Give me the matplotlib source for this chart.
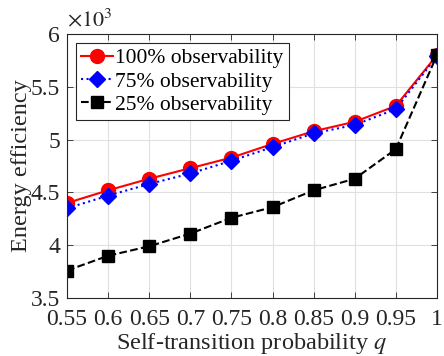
import matplotlib
matplotlib.use("Agg")
import matplotlib.pyplot as plt
from matplotlib.ticker import FuncFormatter

plt.rcParams['font.family'] = ['Liberation Serif', 'DejaVu Serif']
plt.rcParams['mathtext.fontset'] = 'stix'

q = [0.55, 0.6, 0.65, 0.7, 0.75, 0.8, 0.85, 0.9, 0.95, 1.0]
obs100 = [4400, 4520, 4630, 4730, 4830, 4960, 5080, 5170, 5320, 5800]
obs75 = [4350, 4470, 4580, 4680, 4800, 4930, 5060, 5140, 5290, 5790]
obs25 = [3760, 3900, 3990, 4110, 4260, 4360, 4520, 4630, 4910, 5800]
xticks = [0.55, 0.6, 0.65, 0.7, 0.75, 0.8, 0.85, 0.9, 0.95, 1]
xticklabels = ['0.55', '0.6', '0.65', '0.7', '0.75', '0.8', '0.85', '0.9', '0.95', '1']

fig = plt.figure(figsize=(4.44, 3.56), dpi=100)
ax = fig.add_axes([0.151, 0.163, 0.833, 0.741])

ax.plot(q, obs100, '-o', color='red', lw=1.5, ms=10, label='100% observability')
ax.plot(q, obs75, ':D', color='blue', lw=1.5, ms=8.5, label='75% observability')
ax.plot(q, obs25, '--s', color='black', lw=1.5, ms=8.5, label='25% observability')

ax.set_xlim(0.55, 1.0)
ax.set_ylim(3500, 6000)
ax.set_xticks(xticks)
ax.set_xticklabels(xticklabels)
ax.set_yticks([3500, 4000, 4500, 5000, 5500, 6000])
ax.yaxis.set_major_formatter(FuncFormatter(lambda v, p: '%g' % (v / 1000)))
ax.text(0.0, 1.01, r'$\times10^3$', transform=ax.transAxes, fontsize=16,
        color='#262626', ha='left', va='bottom')

ax.grid(True, color='#e0e0e0', lw=0.8)
ax.set_axisbelow(True)
ax.tick_params(direction='in', top=True, right=True, labelsize=17, colors='#262626',
               length=4, width=0.6)
ax.tick_params(axis='x', pad=8)
ax.tick_params(axis='y', pad=5)
for s in ax.spines.values():
    s.set_color('#262626')
    s.set_linewidth(0.8)

ax.set_xlabel('Self-transition probability $q$', fontsize=17.5, color='#262626',
              labelpad=1)
ax.set_ylabel('Energy efficiency', fontsize=17.5, color='#262626', labelpad=-1)

leg = ax.legend(loc='upper left', fontsize=15.5, handlelength=1.5, handletextpad=0.1,
                borderpad=0.25, labelspacing=0.15, borderaxespad=0.4, fancybox=False,
                edgecolor='#262626', framealpha=1)
leg.get_frame().set_linewidth(0.8)

fig.savefig('out.png', dpi=100)
